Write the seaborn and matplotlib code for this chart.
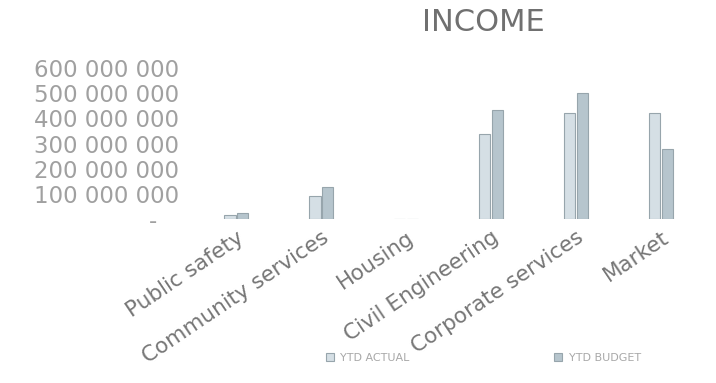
import matplotlib
matplotlib.use("Agg")
import matplotlib.pyplot as plt
import seaborn as sns
import pandas as pd
from matplotlib.ticker import FuncFormatter

# Income by department: year-to-date actual vs budget
departments = ["Public safety", "Community services", "Housing",
               "Civil Engineering", "Corporate services", "Market"]
ytd_actual = [15_000_000, 90_000_000, 0, 340_000_000, 420_000_000, 423_000_000]
ytd_budget = [25_000_000, 126_000_000, 0, 435_000_000, 500_000_000, 280_000_000]
series_names = ["YTD ACTUAL", "YTD BUDGET"]
y_ticks = [0, 100_000_000, 200_000_000, 300_000_000, 400_000_000, 500_000_000, 600_000_000]

df = pd.DataFrame({
    "Department": departments * 2,
    "Series": [series_names[0]] * len(departments) + [series_names[1]] * len(departments),
    "Income": ytd_actual + ytd_budget,
})

sns.set_theme(style="white")
plt.rcParams["font.family"] = ["DejaVu Sans"]

fig = plt.figure(figsize=(7.16, 3.83), dpi=100)
ax = fig.add_axes([0.265, 0.428, 0.735, 0.394])

palette = {series_names[0]: "#d3e0e7", series_names[1]: "#b2c6d1"}
sns.barplot(data=df, x="Department", y="Income", hue="Series", order=departments,
            hue_order=series_names, palette=palette, width=0.3, gap=0.12,
            edgecolor="#97a5ac", linewidth=0.8, ax=ax)

ax.set_xlim(-0.55, 5.65)
ax.set_ylim(0, 600_000_000)
ax.set_yticks(y_ticks)


def accounting(v, _pos):
    if v == 0:
        return "-   "
    return f"{int(v):,}".replace(",", " ")


ax.yaxis.set_major_formatter(FuncFormatter(accounting))
ax.tick_params(axis="y", labelsize=16.5, labelcolor="#a0a0a0", length=0, pad=8)
ax.tick_params(axis="x", labelsize=15.5, labelcolor="#767676", length=0, pad=6)
for lbl in ax.get_xticklabels():
    lbl.set_rotation(34)
    lbl.set_ha("right")
    lbl.set_rotation_mode("anchor")

ax.set_xlabel("")
ax.set_ylabel("")
for s in ax.spines.values():
    s.set_visible(False)

fig.text(0.675, 0.94, "INCOME", ha="center", va="center", fontsize=22, color="#707070")

leg = ax.legend(loc="center", bbox_to_anchor=(0.675, 0.065), bbox_transform=fig.transFigure,
                ncol=2, frameon=False, fontsize=8, columnspacing=13,
                handlelength=0.7, handleheight=0.7, handletextpad=0.6)
for t in leg.get_texts():
    t.set_color("#a8a8a8")

fig.savefig("out.png", dpi=100)
